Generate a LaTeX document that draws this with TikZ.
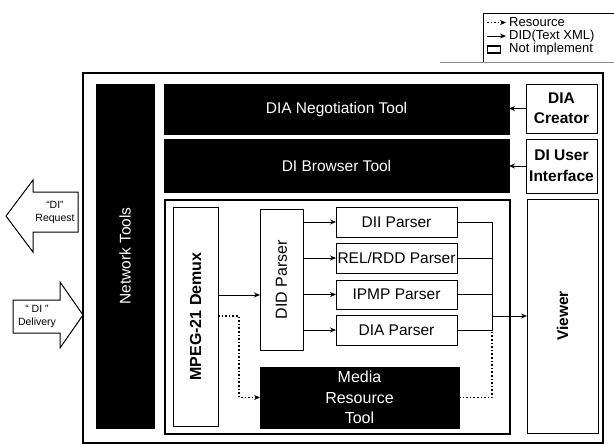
\documentclass[tikz,border=0pt]{standalone}
\usepackage{fontspec}
\setmainfont{Liberation Sans}
\usetikzlibrary{arrows.meta}
\begin{document}
\begin{tikzpicture}[x=1pt,y=-1pt,
  wbox/.style={draw=black,line width=1pt,fill=white,inner sep=0pt,outer sep=0pt},
  bbox/.style={draw=black,line width=1pt,fill=black,text=white,inner sep=0pt,outer sep=0pt},
  lbl/.style={font=\fontsize{15.5}{19}\selectfont,align=center,inner sep=0pt},
  blbl/.style={font=\bfseries\fontsize{15.5}{19}\selectfont,align=center,inner sep=0pt},
  leg/.style={font=\fontsize{13}{14}\selectfont,anchor=west,inner sep=0pt},
  small/.style={font=\fontsize{10.5}{13}\selectfont,align=center,inner sep=0pt},
  didarr/.style={line width=1pt,-{Stealth[length=6pt,width=5pt]}},
  didline/.style={line width=1pt},
  resarr/.style={line width=1.6pt,dotted,-{Stealth[length=6pt,width=5pt]}},
  resline/.style={line width=1.6pt,dotted},
  bigarrow/.style={draw=black,line width=1pt,fill=white,line join=miter}
]
\useasboundingbox (0,0) rectangle (614,445);

% legend
\draw[line width=0.8pt] (616,13) -- (483,13) -- (483,62);
\draw[line width=0.8pt,black!45] (440,62) -- (616,62);
\coordinate (lr1) at (487,22.5); \coordinate (lr2) at (506,22.5);
\coordinate (ld1) at (487,36); \coordinate (ld2) at (506,36);
\draw[resarr,line width=1.3pt] (lr1) -- (lr2);
\node[leg] (legres) at (509,22.5) {Resource};
\draw[didarr] (ld1) -- (ld2);
\node[leg] (legdid) at (509,36) {DID(Text XML)};
\node[wbox,minimum width=13pt,minimum height=7pt,line width=1.2pt] (legni) at (494,49.5) {};
\node[leg] (legnit) at (509,49.5) {Not implement};

% outer frame
\node[wbox,line width=1.4pt,minimum width=520pt,minimum height=370pt] (outer) at (343,258) {};

% black tools
\node[bbox,minimum width=58pt,minimum height=344pt] (net) at (125,256) {};
\node[lbl,rotate=90,text=white] (netl) at (net) {Network Tools};
\node[bbox,minimum width=345pt,minimum height=50pt] (neg) at (336.5,109) {};
\node[lbl,text=white] (negl) at (neg) {DIA Negotiation Tool};
\node[bbox,minimum width=345pt,minimum height=53pt] (brw) at (336.5,165.5) {};
\node[lbl,text=white] (brwl) at (brw) {DI Browser Tool};

% right column
\node[wbox,minimum width=71pt,minimum height=49pt] (creator) at (561.5,108.5) {};
\node[blbl,font=\bfseries\fontsize{15.5}{20}\selectfont] (creatorl) at (creator) {DIA\\Creator};
\node[wbox,minimum width=71pt,minimum height=54pt] (ui) at (561.5,166) {};
\node[blbl,font=\bfseries\fontsize{15.5}{21}\selectfont] (uil) at (ui) {DI User\\Interface};
\node[wbox,minimum width=71pt,minimum height=234pt] (viewer) at (562.5,316) {};
\node[blbl,rotate=90] (viewerl) at (viewer) {Viewer};

% inner block
\node[wbox,line width=1.2pt,minimum width=345pt,minimum height=234pt] (inner) at (337.5,317) {};
\node[wbox,minimum width=45pt,minimum height=219pt] (demux) at (195.5,316.5) {};
\node[blbl,rotate=90,font=\bfseries\fontsize{16}{19}\selectfont] (demuxl) at (demux) {MPEG-21 Demux};
\node[wbox,minimum width=43pt,minimum height=141pt] (did) at (281.5,279.5) {};
\node[lbl,rotate=90,font=\fontsize{16}{19}\selectfont] (didl) at (did) {DID Parser};
\node[wbox,minimum width=121pt,minimum height=30pt] (dii) at (396.5,222) {};
\node[lbl] (diil) at (dii) {DII Parser};
\node[wbox,minimum width=121pt,minimum height=30pt] (rel) at (396.5,258) {};
\node[lbl] (rell) at (rel) {REL/RDD Parser};
\node[wbox,minimum width=121pt,minimum height=29pt] (ipmp) at (396.5,294.5) {};
\node[lbl] (ipmpl) at (ipmp) {IPMP Parser};
\node[wbox,minimum width=121pt,minimum height=30pt] (dia) at (396.5,330) {};
\node[lbl] (dial) at (dia) {DIA Parser};
\node[bbox,minimum width=199pt,minimum height=61pt] (mrt) at (359.5,397.5) {};
\node[lbl,text=white,font=\fontsize{16}{20.5}\selectfont] (mrtl) at (mrt) {Media\\Resource\\Tool};

% connectors
\draw[didarr] (creator.west) -- (creator.west -| neg.east);
\draw[didarr] (ui.west) -- (ui.west -| brw.east);
\coordinate (ydid) at (0,295);
\draw[didarr] (demux.east |- ydid) -- (did.west |- ydid);
\draw[didarr] (did.east |- dii.west) -- (dii.west);
\draw[didarr] (did.east |- rel.west) -- (rel.west);
\draw[didarr] (did.east |- ipmp.west) -- (ipmp.west);
\draw[didarr] (did.east |- dia.west) -- (dia.west);
\coordinate (col) at (492,316);
\draw[didline] (dii.east) -- (dii.east -| col) -- (dia.east -| col) -- (dia.east);
\draw[didline] (rel.east) -- (rel.east -| col);
\draw[didline] (ipmp.east) -- (ipmp.east -| col);
\draw[didarr] (col) -- (col -| viewer.west);
\draw[resline] (mrt.east) -- (mrt.east -| col) -- (dia.east -| col);
\coordinate (dmx) at (239,316);
\draw[resarr] (demux.east |- dmx) -- (dmx) -- (dmx |- mrt.west) -- (mrt.west);

% external arrows
\draw[bigarrow] (78,192) -- (33,192) -- (33,180) -- (6,216) -- (33,252) -- (33,232) -- (78,232) -- cycle;
\node[small] (req) at (55,212) {“DI”\\Request};
\draw[bigarrow] (13,300) -- (60,300) -- (60,282) -- (83,315) -- (60,348) -- (60,333) -- (13,333) -- cycle;
\node[small] (del) at (37,316) {“ DI ”\\Delivery};
\end{tikzpicture}
\end{document}
